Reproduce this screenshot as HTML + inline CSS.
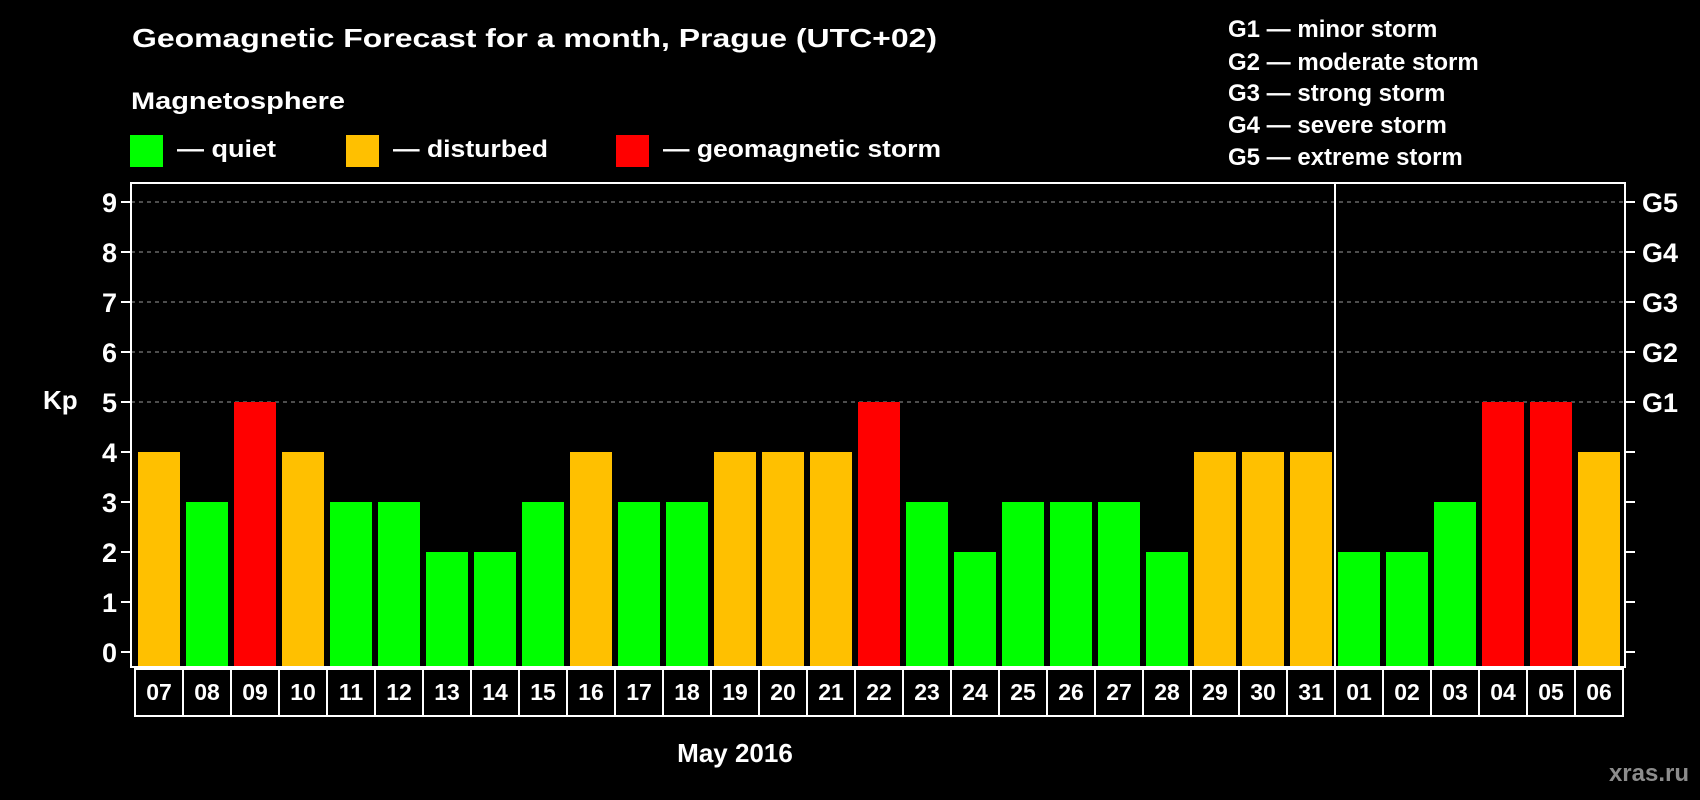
<!DOCTYPE html>
<html><head><meta charset="utf-8"><style>
html,body{margin:0;padding:0;background:#000;width:1700px;height:800px;overflow:hidden}
svg{display:block;font-family:"Liberation Sans",sans-serif;font-weight:bold}
</style></head><body>
<svg id="chart" width="1700" height="800" viewBox="0 0 1700 800">
<rect x="0" y="0" width="1700" height="800" fill="#000"/>
<text x="132" y="47" fill="#fff" font-size="26" textLength="805" lengthAdjust="spacingAndGlyphs">Geomagnetic Forecast for a month, Prague (UTC+02)</text>
<text x="131" y="109" fill="#fff" font-size="24" textLength="214" lengthAdjust="spacingAndGlyphs">Magnetosphere</text>
<g><rect x="130" y="135" width="33" height="32" fill="#00ff00"/><text x="177" y="157" fill="#fff" font-size="24" textLength="99" lengthAdjust="spacingAndGlyphs">— quiet</text></g>
<g><rect x="346" y="135" width="33" height="32" fill="#ffc000"/><text x="393" y="157" fill="#fff" font-size="24" textLength="155" lengthAdjust="spacingAndGlyphs">— disturbed</text></g>
<g><rect x="616" y="135" width="33" height="32" fill="#ff0000"/><text x="663" y="157" fill="#fff" font-size="24" textLength="278" lengthAdjust="spacingAndGlyphs">— geomagnetic storm</text></g>
<g fill="#fff" font-size="24">
<text x="1228" y="37">G1 — minor storm</text>
<text x="1228" y="70">G2 — moderate storm</text>
<text x="1228" y="101">G3 — strong storm</text>
<text x="1228" y="133">G4 — severe storm</text>
<text x="1228" y="165">G5 — extreme storm</text>
</g>
<g id="grid"></g>
<g id="bars"></g>
<g id="axes"></g>
<text x="43" y="409" fill="#fff" font-size="26">Kp</text>
<text x="735" y="762" fill="#fff" font-size="26" text-anchor="middle">May 2016</text>
<text x="1689" y="781" fill="#8c8c8c" font-size="24" text-anchor="end">xras.ru</text>
</svg>
<script>
const days = ["07","08","09","10","11","12","13","14","15","16","17","18","19","20","21","22","23","24","25","26","27","28","29","30","31","01","02","03","04","05","06"];
const kpValues = [4,3,5,4,3,3,2,2,3,4,3,3,4,4,4,5,3,2,3,3,3,2,4,4,4,2,2,3,5,5,4];
const yTicks = [0,1,2,3,4,5,6,7,8,9];
const gLabels = ["G1","G2","G3","G4","G5"];
const gLevels = [5,6,7,8,9];
const monthBreakIndex = 25;

const NS = "http://www.w3.org/2000/svg";
const L = 131, R = 1625, T = 183, B = 667;
const pitch = 48, barW = 42, barOff = 7;
function y(v){ return 652 - v * 50; }
function xBar(i){ return L + barOff + i * pitch; }
function mk(tag, attrs, parent){ const e = document.createElementNS(NS, tag); for (const k in attrs) e.setAttribute(k, attrs[k]); parent.appendChild(e); return e; }

const grid = document.getElementById('grid');
const bars = document.getElementById('bars');
const axes = document.getElementById('axes');

gLevels.forEach(v => {
  const l = mk('line', {x1:L, x2:R, y1:y(v), y2:y(v), stroke:'#9a9a9a', 'stroke-width':1, 'stroke-dasharray':'4,4'}, grid);
  
  
});

function colorFor(v){ return v >= 5 ? '#ff0000' : (v === 4 ? '#ffc000' : '#00ff00'); }
kpValues.forEach((v, i) => {
  const r = mk('rect', {x:xBar(i), y:y(v), width:barW, height:B - y(v), fill:colorFor(v)}, bars);
  
  
});

const frame = mk('rect', {x:L, y:T, width:R-L, height:B-T, fill:'none', stroke:'#fff', 'stroke-width':2}, axes);


const sx = L + 4 + monthBreakIndex * pitch;
const sep = mk('line', {x1:sx, x2:sx, y1:T, y2:B, stroke:'#fff', 'stroke-width':2}, axes);



yTicks.forEach(v => {
  mk('line', {x1:L-10, x2:L, y1:y(v), y2:y(v), stroke:'#fff', 'stroke-width':2}, axes);
  mk('line', {x1:R, x2:R+10, y1:y(v), y2:y(v), stroke:'#fff', 'stroke-width':2}, axes);
  const t = mk('text', {x:117, y:y(v)+10, fill:'#fff', 'font-size':27, 'text-anchor':'end'}, axes);
  t.textContent = v;
  
  
});
gLabels.forEach((g, i) => {
  const t = mk('text', {x:1642, y:y(gLevels[i])+10, fill:'#fff', 'font-size':27}, axes);
  t.textContent = g;
  
  
});

days.forEach((d, i) => {
  const cx = 135 + i * pitch;
  const c = mk('rect', {x:cx, y:669, width:pitch, height:47, fill:'none', stroke:'#fff', 'stroke-width':2}, axes);
  
  
  const t = mk('text', {x:cx + pitch/2, y:700, fill:'#fff', 'font-size':23, 'text-anchor':'middle'}, axes);
  t.textContent = d;
  
  
});
</script>
</body></html>
